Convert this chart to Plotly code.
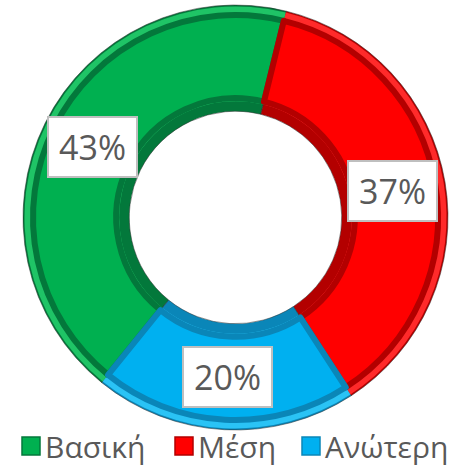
import math
import plotly.graph_objects as go

labels = ["Βασική", "Μέση", "Ανώτερη"]
values = [43, 37, 20]
face_colors = ["#00B050", "#FF0000", "#00B0F0"]
edge_colors = ["#03783B", "#B30000", "#0A86B8"]
rim_colors = ["#1FC466", "#FF2A2A", "#2AC3F5"]

ROT = 219
HOLE = 0.5
W, H = 472, 469
ML, MR, MT, MB = 23, 24, 5, 39
PW = W - ML - MR
PH = H - MT - MB
R_OUT = PW / 2
R_IN = R_OUT * HOLE

fig = go.Figure()

# base ring (bevel shadow)
fig.add_trace(go.Pie(
    labels=labels, values=values, hole=HOLE, sort=False, direction="clockwise",
    rotation=ROT, textinfo="none", hoverinfo="skip", showlegend=False,
    marker=dict(colors=edge_colors, line=dict(color="#2A2A2A", width=0.5)),
    domain=dict(x=[0, 1], y=[0, 1]),
))

# outer highlight ring
o1 = 1.5
fig.add_trace(go.Pie(
    labels=labels, values=values, hole=(R_IN + 10) / (R_OUT - o1), sort=False,
    direction="clockwise", rotation=ROT, textinfo="none", hoverinfo="skip",
    showlegend=False,
    marker=dict(colors=rim_colors, line=dict(color="rgba(0,0,0,0)", width=0)),
    domain=dict(x=[o1 / PW, 1 - o1 / PW], y=[o1 / PH, 1 - o1 / PH]),
))

# face
o2 = 10
fig.add_trace(go.Pie(
    labels=labels, values=values, hole=(R_IN + 13) / (R_OUT - o2), sort=False,
    direction="clockwise", rotation=ROT, textinfo="none", hoverinfo="skip",
    showlegend=False,
    marker=dict(colors=face_colors, line=dict(color=edge_colors, width=6)),
    domain=dict(x=[o2 / PW, 1 - o2 / PW], y=[o2 / PH, 1 - o2 / PH]),
))

# data labels in white boxes, placed at each slice's mid angle
total = sum(values)
r_lab = 0.5 * (1 + HOLE) / 2
cum = 0
for lab, v in zip(labels, values):
    mid = math.radians(ROT + 360 * (cum + v / 2) / total)
    cum += v
    fig.add_annotation(
        x=0.5 + r_lab * math.sin(mid), y=0.5 + r_lab * math.cos(mid),
        xref="paper", yref="paper", xanchor="center", yanchor="middle",
        text=f"{round(100 * v / total)}%",
        showarrow=False, bgcolor="white", bordercolor="#BFBFBF", borderwidth=2,
        width=85, height=56, align="center", valign="middle",
        font=dict(family="Open Sans", size=34, color="#595959"),
    )

# legend (drawn manually so symbol size and spacing match)
leg_sym_x = [22, 175, 302]      # left edge of each legend square, px
leg_y = 446                     # vertical centre of legend row, px
sym = 18
for i, lab in enumerate(labels):
    x0 = leg_sym_x[i]
    fig.add_shape(type="rect", xref="paper", yref="paper",
                  x0=(x0 - ML) / PW, x1=(x0 + sym - ML) / PW,
                  y0=(H - MB - (leg_y + sym / 2)) / PH,
                  y1=(H - MB - (leg_y - sym / 2)) / PH,
                  fillcolor=face_colors[i], line=dict(color=edge_colors[i], width=1.5))
    fig.add_annotation(x=(x0 + sym + 3 - ML) / PW, y=(H - MB - leg_y) / PH,
                       xref="paper", yref="paper", xanchor="left", yanchor="middle",
                       text=lab, showarrow=False,
                       font=dict(family="Open Sans", size=30, color="#595959"))

fig.update_layout(
    width=W, height=H,
    margin=dict(l=ML, r=MR, t=MT, b=MB, autoexpand=False),
    paper_bgcolor="white", plot_bgcolor="white",
    showlegend=False,
)

fig.write_html("out.html", config={"displayModeBar": False},
               post_script="document.body.style.margin='0';document.body.style.overflow='hidden';")
